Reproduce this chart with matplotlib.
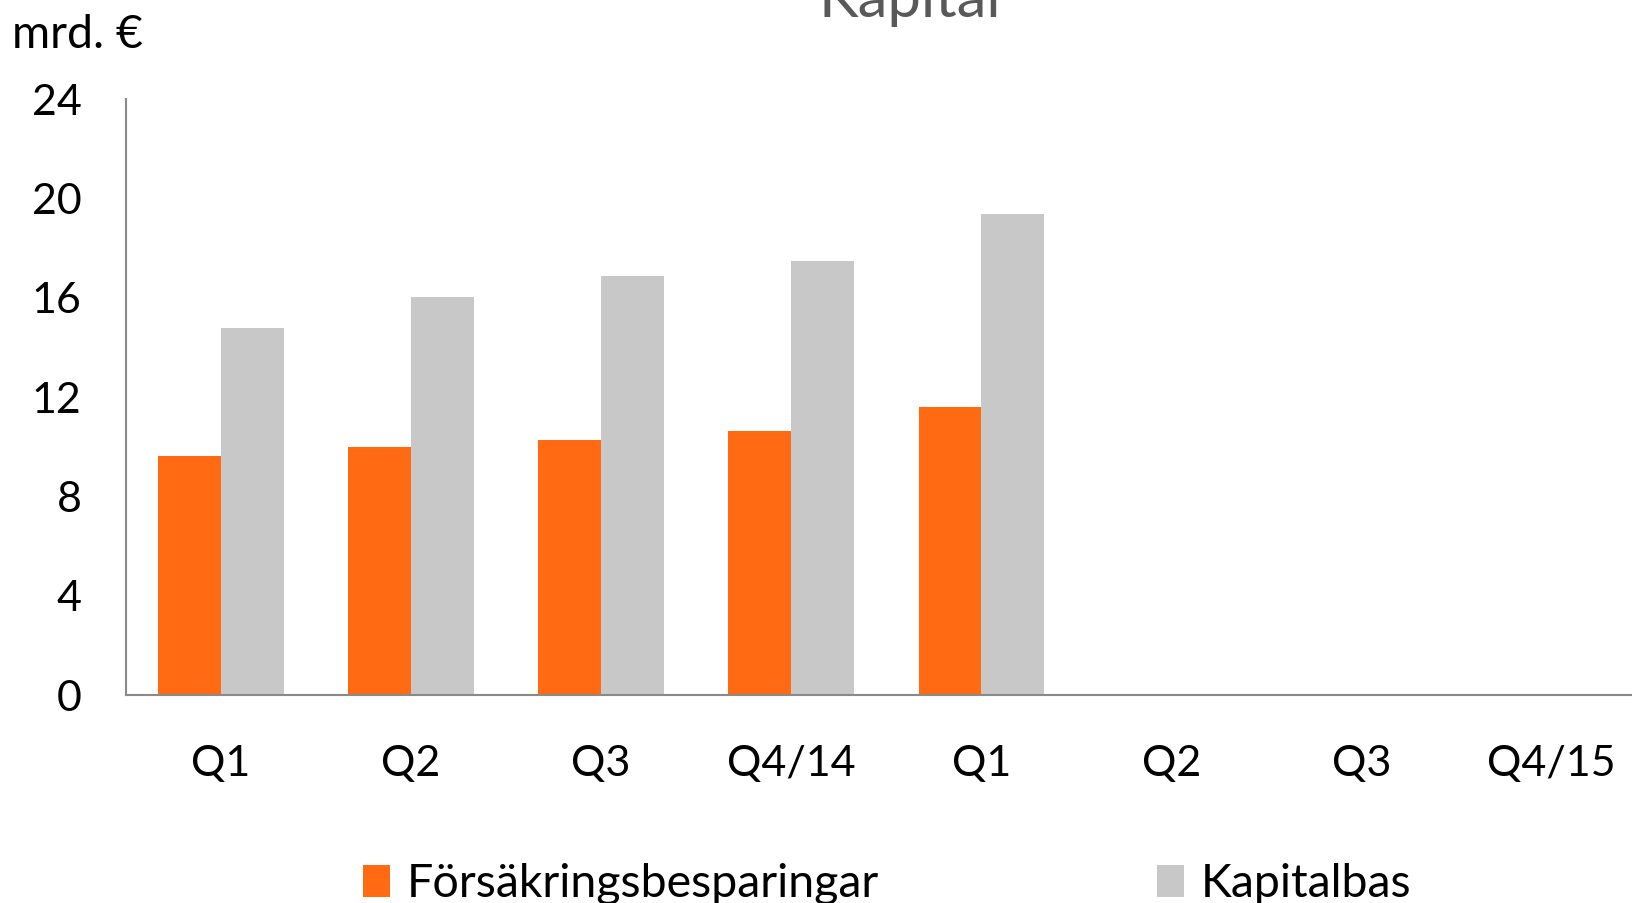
import matplotlib
matplotlib.use("Agg")
import matplotlib.pyplot as plt
import numpy as np

categories = ["Q1", "Q2", "Q3", "Q4/14", "Q1", "Q2", "Q3", "Q4/15"]
forsakring = [9.6, 9.97, 10.25, 10.62, 11.6]
kapitalbas = [14.77, 16.02, 16.87, 17.47, 19.35]
yticks = [0, 4, 8, 12, 16, 20, 24]

plt.rcParams['font.family'] = ['Lato', 'DejaVu Sans']
W, H = 1632, 903
fig = plt.figure(figsize=(W/100 + 0.004, H/100 + 0.004), dpi=100)
ax = fig.add_axes([126/W, 1 - 695/H, 1520/W, (695 - 99)/H])

orange = '#FF6A13'
grey = '#C8C8C8'
bw = 0.33
x1 = np.arange(len(forsakring))
b1 = ax.bar(x1 - bw/2, forsakring, width=bw, color=orange, label='Försäkringsbesparingar')
b2 = ax.bar(x1 + bw/2, kapitalbas, width=bw, color=grey, label='Kapitalbas')

ax.set_xlim(-0.5, 7.5)
ax.set_ylim(0, 24)
ax.set_yticks(yticks)
ax.set_xticks(np.arange(len(categories)))
ax.set_xticklabels(categories)
ax.tick_params(axis='both', length=0, labelsize=31, colors='black')
ax.tick_params(axis='y', pad=32)
ax.tick_params(axis='x', pad=36)
for s in ['top', 'right']:
    ax.spines[s].set_visible(False)
for s in ['left', 'bottom']:
    ax.spines[s].set_color('#8A8A8A')
    ax.spines[s].set_linewidth(1.5)

fig.text(910/W, 1 - 17/H, 'Kapital', ha='center', va='baseline', fontsize=43, color='#595959')
fig.text(12/W, 1 - 35/H, 'mrd. €', ha='left', va='center', fontsize=33.5, color='black')

common = dict(frameon=False, fontsize=33.5, handlelength=0.58, handleheight=0.68,
              handletextpad=0.36, borderpad=0, borderaxespad=0, loc='center left')
fig.legend(handles=[b1], labels=['Försäkringsbesparingar'], bbox_to_anchor=(363/W, 1 - 884/H), **common)
fig.legend(handles=[b2], labels=['Kapitalbas'], bbox_to_anchor=(1157/W, 1 - 884/H), **common)

fig.savefig('out.png', dpi=100)
